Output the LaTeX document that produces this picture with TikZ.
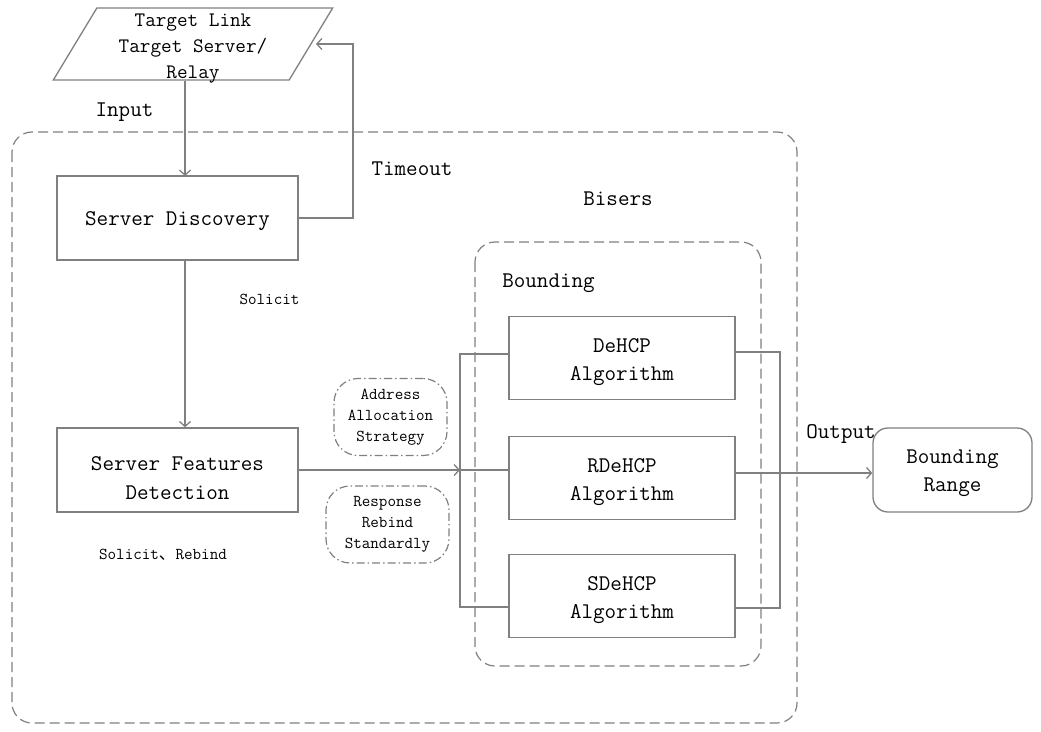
\documentclass[tikz,border=0pt]{standalone}
\usepackage{fontspec}
\newfontfamily\cjk{Noto Sans CJK SC}
\usetikzlibrary{arrows.meta,shapes.geometric}

\newcommand{\lfont}{\ttfamily\fontsize{22.4}{28.5}\selectfont}
\newcommand{\mfont}{\ttfamily\fontsize{20.6}{26}\selectfont}
\newcommand{\sfont}{\ttfamily\fontsize{16.6}{21}\selectfont}
\newcommand{\dn}[1]{\rule{0pt}{#1}}

\begin{document}
\begin{tikzpicture}[x=1pt,y=-1pt,
    line/.style={draw=black!50, line width=1.3pt},
    arr/.style={line, -{Straight Barb[length=5pt,width=11pt]}},
    box/.style={line, minimum width=241pt, minimum height=84pt, align=center, font=\lfont},
    algbox/.style={line, minimum width=226pt, minimum height=83pt, align=center, font=\lfont},
    frame/.style={draw=black!50, line width=1.2pt, dash pattern=on 10pt off 5pt, rounded corners=20pt},
    bubble/.style={draw=black!50, line width=1.2pt, dash pattern=on 8pt off 3pt on 1.5pt off 3pt,
        rounded corners=24pt, align=center, font=\sfont, inner sep=0pt},
    lbl/.style={font=\lfont, inner sep=0pt}
]
\useasboundingbox (0,0) rectangle (1041,731);

    %frames
    \draw[frame] (12,132) rectangle (797,723);
    \draw[frame] (475,242) rectangle (761,666);

    %input
    \node[line, trapezium, trapezium left angle=64.1, trapezium right angle=115.9,
          trapezium stretches=true, minimum width=280pt, minimum height=72pt,
          align=center, font=\mfont, inner sep=0pt] (tgt) at (193,44)
          {\dn{17pt}Target Link\\Target Server/\\Rela\smash{y}};

    %main boxes
    \node[box] (sd) at (177.5,218) {\dn{19.5pt}Server Discovery};
    \node[box] (sf) at (177.5,470) {\dn{30pt}Server Features\\Detection};

    %algorithms
    \foreach \y/\txt/\name in {358/DeHCP/de, 478/RDeHCP/rde, 596/SDeHCP/sde}{
        \node[algbox] (\name) at (622,\y) {\dn{22pt}\txt\\Algorithm};
    }

    %output
    \node[line, rounded corners=15pt, minimum width=159pt, minimum height=84pt,
          align=center, font=\lfont] (br) at (952.5,470) {\dn{20pt}Bounding\\Range};

    %bubbles
    \node[bubble, minimum width=113pt, minimum height=77pt] (aas) at (390.5,417)
        {Address\\Allocation\\Strategy};
    \node[bubble, minimum width=123pt, minimum height=77pt] (rrs) at (387.5,524.5)
        {Response\\Rebind\\Standardly};

    %labels
    \node[lbl] (in) at (124.5,112) {Input};
    \node[lbl] (to) at (412,169) {Timeout};
    \node[lbl] (bi) at (618,199) {Bisers};
    \node[lbl] (bo) at (548.5,283) {Bounding};
    \node[lbl] (out) at (841,434) {Output};
    \node[font=\sfont, inner sep=0pt] (sol) at (269.5,299) {Solicit};
    \node[font=\sfont, inner sep=0pt] (solr) at (163,555) {Solicit{\cjk 、}Rebind};

    %connectors
    \coordinate (sdin) at (185,176);
    \coordinate (fb) at (316,44);
    \coordinate (busL) at (460,470);
    \coordinate (busR) at (780,473);

    \draw[arr] (tgt.south -| sdin) -- (sdin);
    \draw[arr] (sd.east) -| (353,44) -- (fb);
    \draw[arr] (sd.south -| sdin) -- (sf.north -| sdin);
    \draw[arr] (sf.east) -- (busL);
    \draw[line] ([yshift=4pt]de.west) -| (busL) |- ([yshift=-11pt]sde.west);
    \draw[line] (busL) -- (rde.west |- busL);
    \draw[line] ([yshift=6pt]de.east) -| (busR) |- ([yshift=-12pt]sde.east);
    \draw[arr] (rde.east |- busR) -- (br.west |- busR);

\end{tikzpicture}
\end{document}
